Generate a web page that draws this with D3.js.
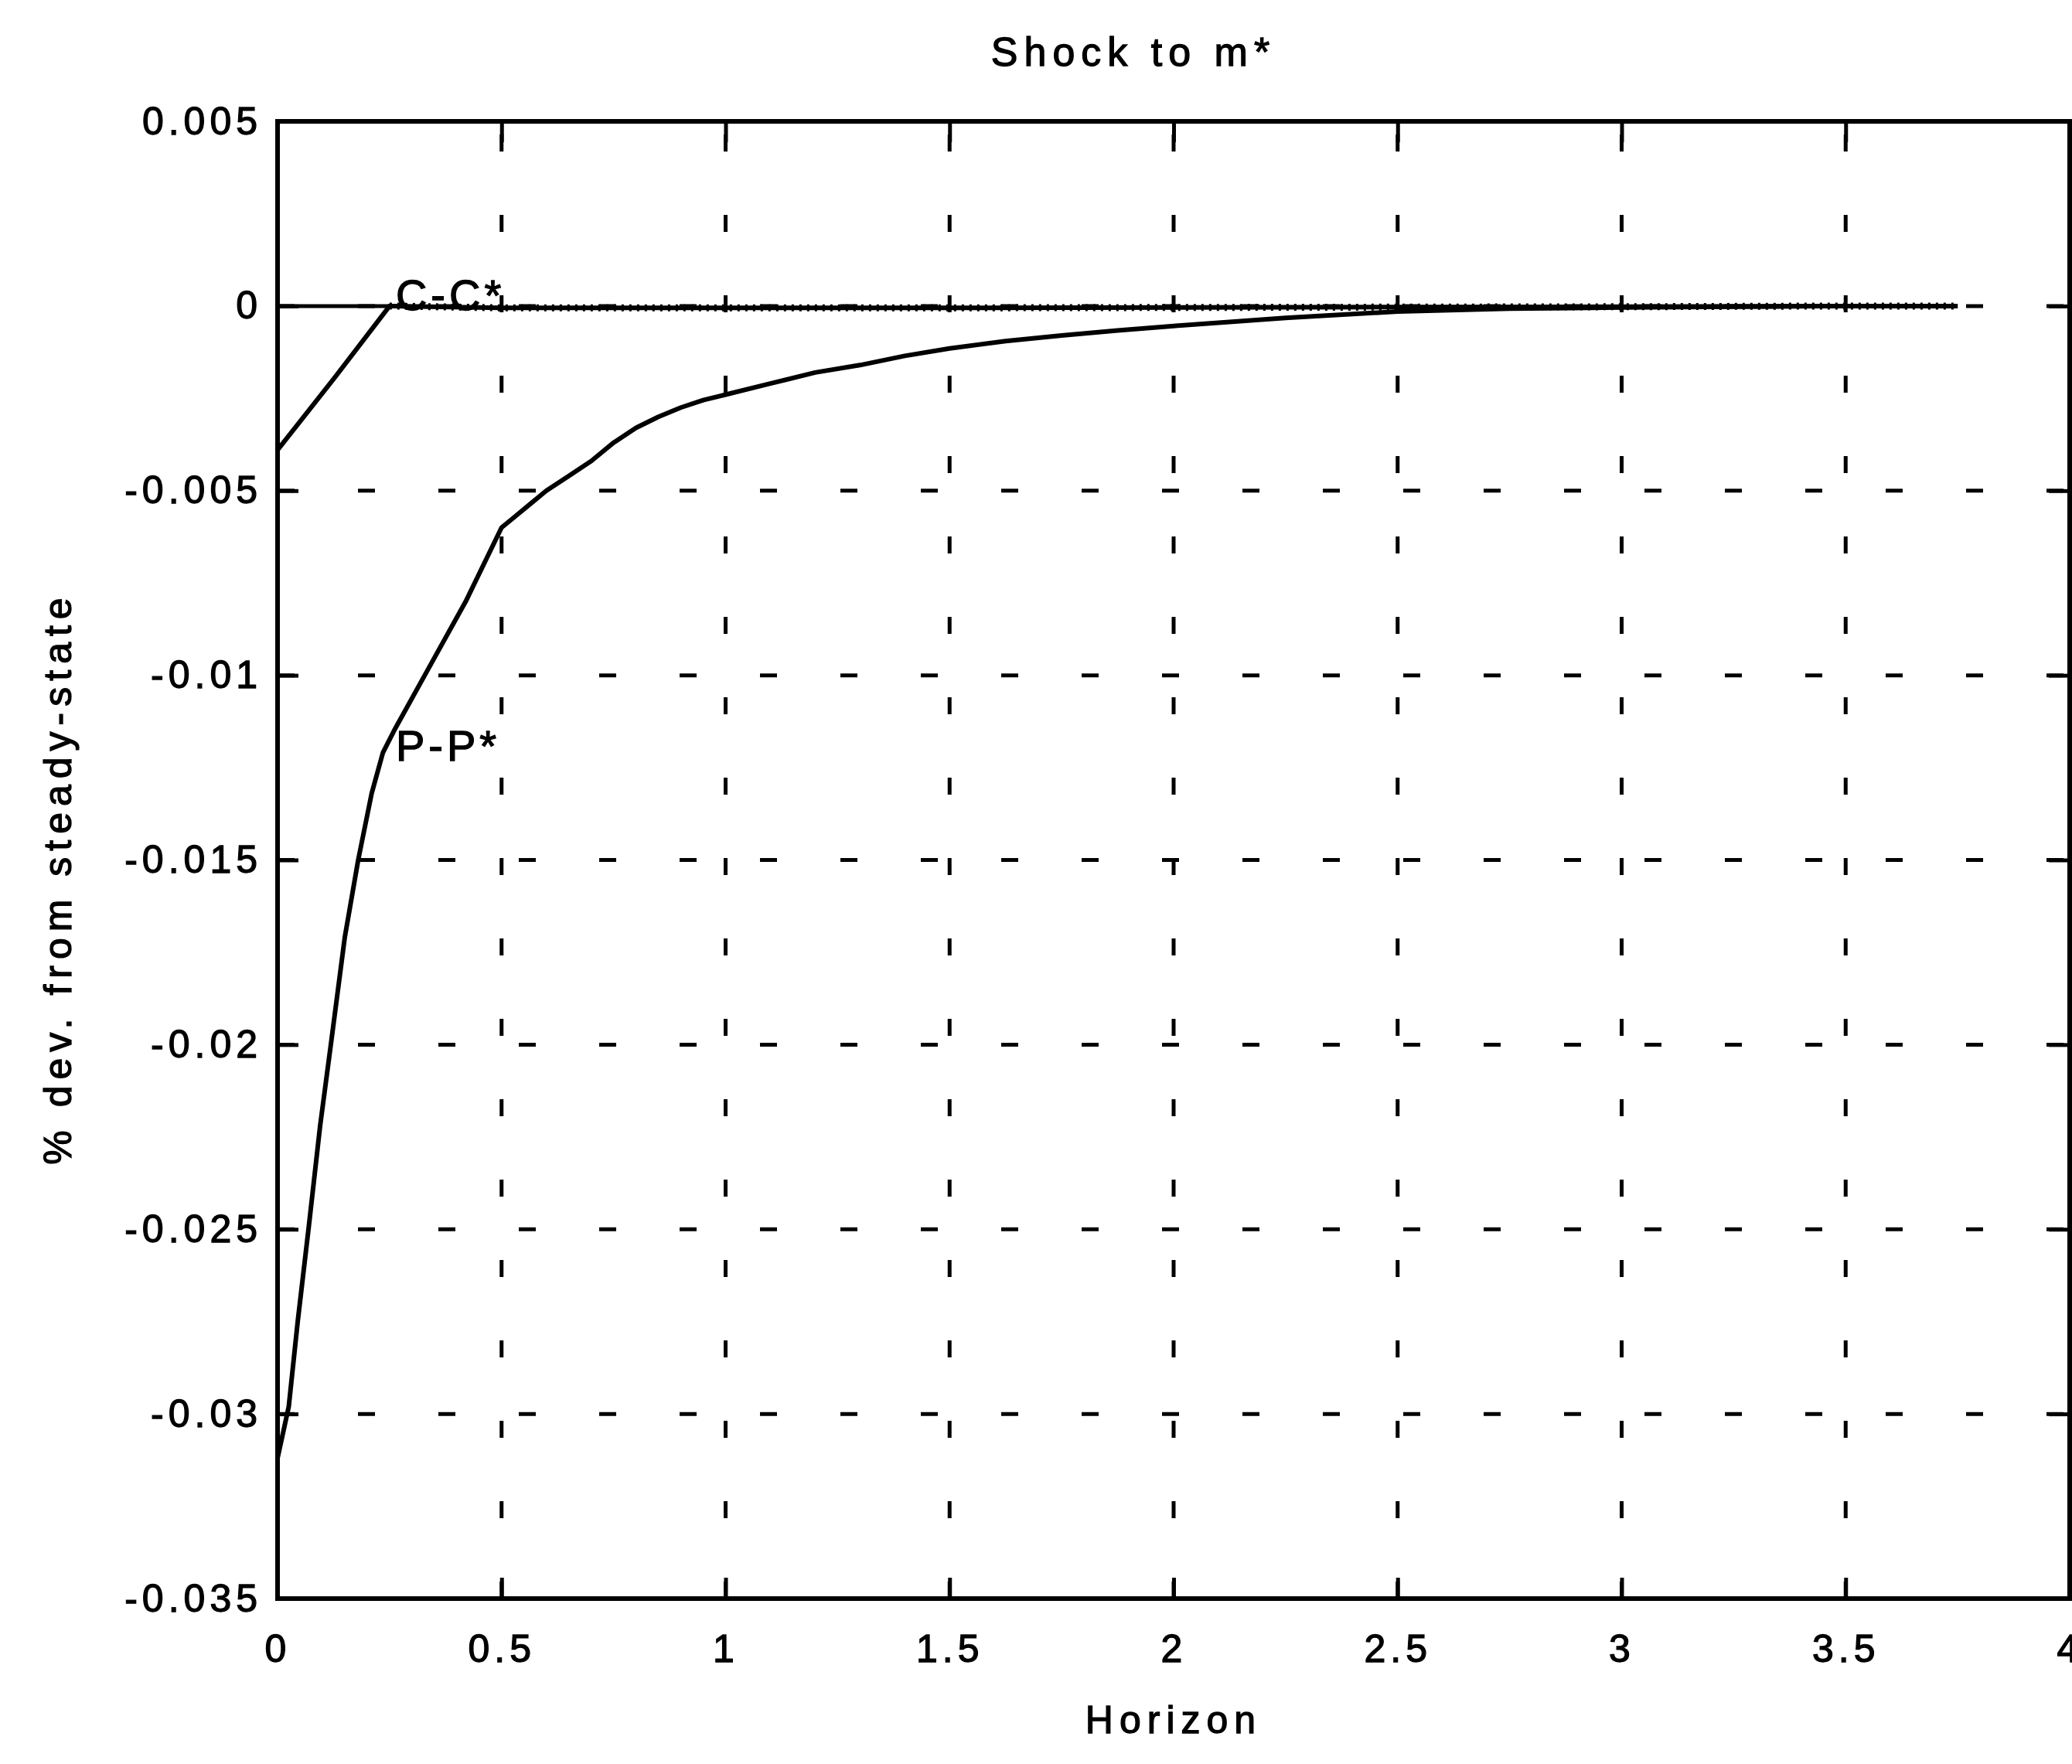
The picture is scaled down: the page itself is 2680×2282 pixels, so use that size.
<!DOCTYPE html>
<html>
<head>
<meta charset="utf-8">
<script src="https://cdn.jsdelivr.net/npm/d3@7"></script>
<style>
  body { margin: 0; background: #fff; }
  svg { display: block; font-family: 'Liberation Sans', Arial, Helvetica, sans-serif; }
  text { stroke: #000; stroke-width: 1.3px; fill: #000; }
</style>
</head>
<body>
<svg id="chart" width="2680" height="2282"></svg>
<script>
const xTicks = [0, 0.5, 1, 1.5, 2, 2.5, 3, 3.5, 4];
const xTickLabels = ['0', '0.5', '1', '1.5', '2', '2.5', '3', '3.5', '4'];
const yTicks = [0.005, 0, -0.005, -0.01, -0.015, -0.02, -0.025, -0.03, -0.035];
const yTickLabels = ['0.005', '0', '-0.005', '-0.01', '-0.015', '-0.02', '-0.025', '-0.03', '-0.035'];

// C-C* response
const ccHorizon = [0, 0.13, 0.25, 0.5, 1, 1.5, 2, 2.5, 3, 3.5, 3.75];
const ccValues = [-0.0039, -0.0019, 0, -0.00005, -0.00005, -0.00005, -0.00004, -0.00003, -0.00002, 0, 0];

// P-P* response
const ppHorizon = [0, 0.025, 0.045, 0.07, 0.095, 0.12, 0.15, 0.18, 0.21, 0.235, 0.26, 0.333, 0.42, 0.5,
  0.53, 0.56, 0.6, 0.65, 0.7, 0.75, 0.8, 0.85, 0.9, 0.95, 1.0, 1.1, 1.2, 1.3, 1.4, 1.5, 1.625, 1.75, 1.875,
  2.0, 2.25, 2.5, 2.75, 3.0, 3.25, 3.5, 3.75];
const ppValues = [-0.0312, -0.0298, -0.0275, -0.0249, -0.0222, -0.0199, -0.0171, -0.015, -0.0132, -0.0121, -0.0115, -0.0099, -0.008, -0.006,
  -0.0057, -0.0054, -0.005, -0.0046, -0.0042, -0.0037, -0.0033, -0.003, -0.00275, -0.00255, -0.0024, -0.0021, -0.0018, -0.0016, -0.00135, -0.00115, -0.00095, -0.0008, -0.00066,
  -0.00054, -0.00032, -0.00015, -0.00007, -0.00004, -0.00002, 0, 0];

// short zero reference segment at the start
const zeroHorizon = [0, 0.25];
const zeroValues = [0, 0];

const svg = d3.select('#chart');
const x = d3.scaleLinear().domain([0, 4]).range([359, 2677]);
const y = d3.scaleLinear().domain([-0.035, 0.005]).range([2068, 157]);

const tickLen = 27;
const fontSize = 50;

// dotted grid
const grid = svg.append('g')
  .attr('stroke', '#000')
  .attr('stroke-width', 5)
  .attr('stroke-dasharray', '22 82');

grid.selectAll('.vgrid')
  .data(xTicks.slice(1, -1))
  .join('line')
  .attr('x1', d => x(d)).attr('x2', d => x(d))
  .attr('y1', y(-0.035)).attr('y2', y(0.005));

grid.selectAll('.hgrid')
  .data(yTicks.slice(1, -1))
  .join('line')
  .attr('x1', x(0)).attr('x2', x(4))
  .attr('y1', d => y(d)).attr('y2', d => y(d));

function styleAxis(g) {
  g.select('.domain').remove();
  g.attr('font-family', null).attr('font-size', null);
  g.selectAll('.tick line').attr('stroke', '#000').attr('stroke-width', 5);
  g.selectAll('.tick text')
    .attr('fill', '#000')
    .attr('font-size', fontSize)
    .attr('letter-spacing', 6);
}

svg.append('g')
  .attr('transform', `translate(0,${y(-0.035)})`)
  .call(d3.axisBottom(x).tickValues(xTicks).tickFormat((d, i) => xTickLabels[i])
    .tickSize(-tickLen).tickSizeOuter(0).tickPadding(46))
  .call(styleAxis);

svg.append('g')
  .attr('transform', `translate(0,${y(0.005)})`)
  .call(d3.axisTop(x).tickValues(xTicks).tickFormat('')
    .tickSize(-tickLen).tickSizeOuter(0))
  .call(styleAxis);

svg.append('g')
  .attr('transform', `translate(${x(0)},0)`)
  .call(d3.axisLeft(y).tickValues(yTicks).tickFormat((d, i) => yTickLabels[i])
    .tickSize(-tickLen).tickSizeOuter(0).tickPadding(20))
  .call(styleAxis);

svg.append('g')
  .attr('transform', `translate(${x(4)},0)`)
  .call(d3.axisRight(y).tickValues(yTicks).tickFormat('')
    .tickSize(-tickLen).tickSizeOuter(0))
  .call(styleAxis);

// axes box
svg.append('rect')
  .attr('x', x(0)).attr('y', y(0.005))
  .attr('width', x(4) - x(0)).attr('height', y(-0.035) - y(0.005))
  .attr('fill', 'none')
  .attr('stroke', '#000')
  .attr('stroke-width', 6);

const line = d3.line().x(d => x(d[0])).y(d => y(d[1]));

svg.append('path')
  .datum(d3.zip(zeroHorizon, zeroValues))
  .attr('d', line)
  .attr('fill', 'none').attr('stroke', '#000').attr('stroke-width', 5);

svg.append('path')
  .datum(d3.zip(ppHorizon, ppValues))
  .attr('d', line)
  .attr('fill', 'none').attr('stroke', '#000').attr('stroke-width', 6)
  .attr('stroke-linejoin', 'round');

const ccData = d3.zip(ccHorizon, ccValues);

svg.append('path')
  .datum(ccData)
  .attr('d', line)
  .attr('fill', 'none').attr('stroke', '#000').attr('stroke-width', 6)
  .attr('stroke-linejoin', 'round');

// jagged texture of the scanned flat tail
svg.append('path')
  .datum(ccData.filter(d => d[0] >= 0.25))
  .attr('d', line)
  .attr('fill', 'none').attr('stroke', '#000').attr('stroke-width', 9)
  .attr('stroke-dasharray', '3 7');

// curve labels
const curveLabels = [
  { text: 'C-C*', h: 0.25, v: 0.0003 },
  { text: 'P-P*', h: 0.25, v: -0.0119 }
];

svg.append('g')
  .selectAll('text')
  .data(curveLabels)
  .join('text')
  .attr('x', d => x(d.h) + 8)
  .attr('y', d => y(d.v))
  .attr('dy', '0.35em')
  .attr('font-size', 56)
  .attr('letter-spacing', 5)
  .text(d => d.text);

// title and axis labels
svg.append('text')
  .attr('x', 1466).attr('y', 85)
  .attr('text-anchor', 'middle')
  .attr('font-size', 52)
  .attr('letter-spacing', 8)
  .text('Shock to m*');

svg.append('text')
  .attr('x', 1518).attr('y', 2242)
  .attr('text-anchor', 'middle')
  .attr('font-size', 50)
  .attr('letter-spacing', 8)
  .text('Horizon');

svg.append('text')
  .attr('transform', 'translate(92,1136) rotate(-90)')
  .attr('text-anchor', 'middle')
  .attr('font-size', 50)
  .attr('letter-spacing', 8)
  .text('% dev. from steady-state');
</script>
</body>
</html>
